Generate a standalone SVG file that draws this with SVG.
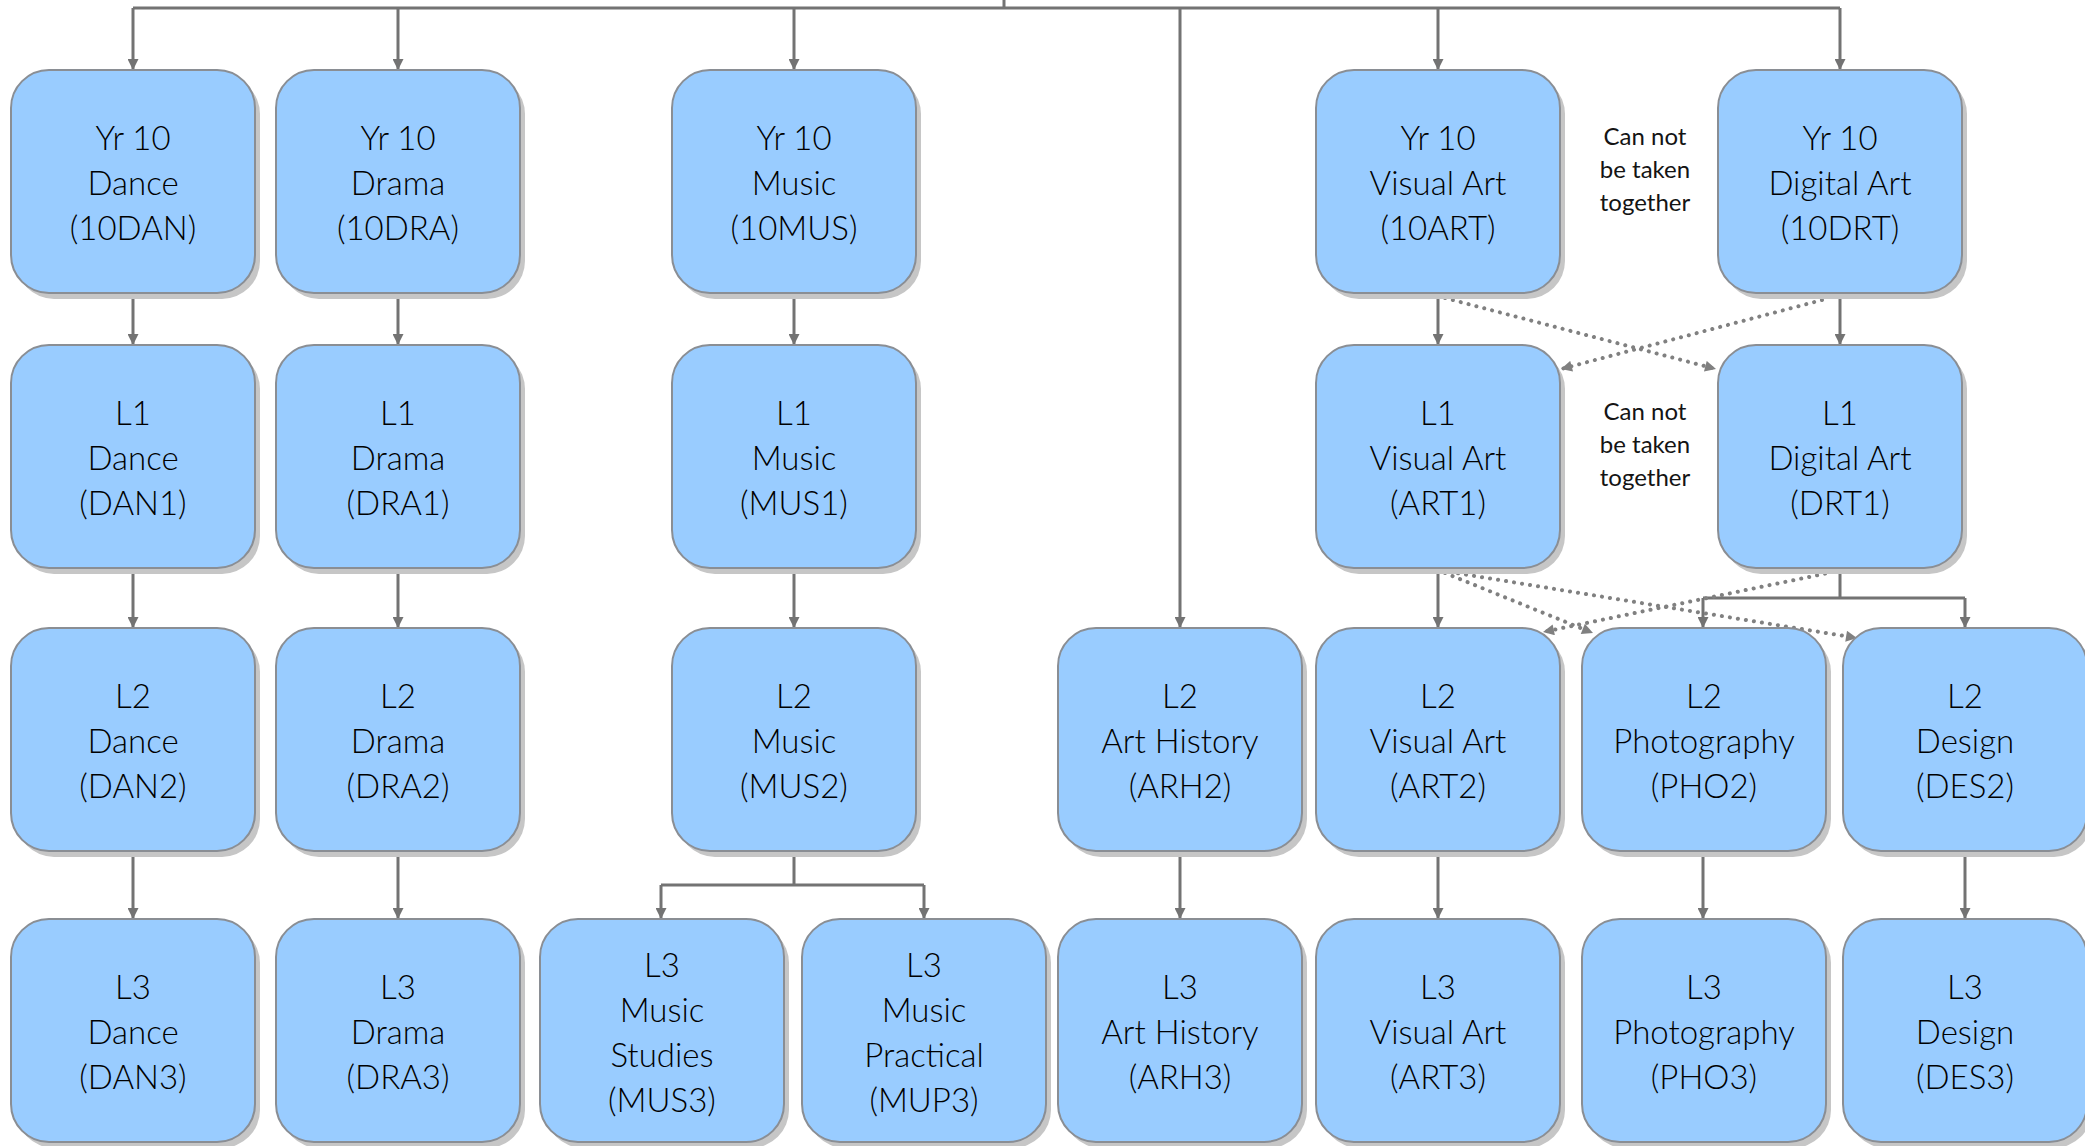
<svg xmlns="http://www.w3.org/2000/svg" width="2085" height="1146" viewBox="0 0 2085 1146">
<defs>
<marker id="ah" viewBox="0 0 10 10" refX="10" refY="5" markerWidth="12" markerHeight="11" markerUnits="userSpaceOnUse" orient="auto">
<path d="M0,0 L10,5 L0,10 z" fill="#737373"/>
</marker>
<marker id="dh" viewBox="0 0 10 10" refX="10" refY="5" markerWidth="13" markerHeight="11" markerUnits="userSpaceOnUse" orient="auto">
<path d="M0,0 L10,5 L0,10 z" fill="#808080"/>
</marker>
</defs>
<style>
.sh{fill:#c6c6c6}
.bx{fill:#99CCFF;stroke:#8a8e94;stroke-width:2}
.t{font-family:Lato,"Open Sans","Liberation Sans",sans-serif;font-weight:300;font-size:33px;fill:#000;text-anchor:middle}
.n{font-family:Lato,"Open Sans","Liberation Sans",sans-serif;font-weight:400;font-size:24px;fill:#141414;text-anchor:middle}
.c{fill:none;stroke:#737373;stroke-width:3}
.a{marker-end:url(#ah)}
.d{fill:none;stroke:#808080;stroke-width:4;stroke-linecap:round;stroke-dasharray:0.1 8;marker-end:url(#dh)}
</style>
<g id="connectors">
<path class="c" d="M1004,0 V8"/>
<path class="c" d="M133,8 H1840"/>
<path class="c a" d="M133,8 V70"/>
<path class="c a" d="M398,8 V70"/>
<path class="c a" d="M794,8 V70"/>
<path class="c a" d="M1180,8 V628"/>
<path class="c a" d="M1438,8 V70"/>
<path class="c a" d="M1840,8 V70"/>
<path class="c a" d="M133,293 V345"/>
<path class="c a" d="M398,293 V345"/>
<path class="c a" d="M794,293 V345"/>
<path class="c a" d="M1438,293 V345"/>
<path class="c a" d="M1840,293 V345"/>
<path class="c a" d="M133,568 V628"/>
<path class="c a" d="M398,568 V628"/>
<path class="c a" d="M794,568 V628"/>
<path class="c a" d="M1438,568 V628"/>
<path class="c" d="M1840,568 V598 M1703,598 H1965"/>
<path class="c a" d="M1703,598 V628"/>
<path class="c a" d="M1965,598 V628"/>
<path class="c" d="M794,851 V885 M661,885 H924"/>
<path class="c a" d="M661,885 V919"/>
<path class="c a" d="M924,885 V919"/>
<path class="c a" d="M133,851 V919"/>
<path class="c a" d="M398,851 V919"/>
<path class="c a" d="M1180,851 V919"/>
<path class="c a" d="M1438,851 V919"/>
<path class="c a" d="M1703,851 V919"/>
<path class="c a" d="M1965,851 V919"/>
<path class="d" d="M1445,298 L1716,369"/>
<path class="d" d="M1822,300 L1561,369"/>
<path class="d" d="M1445,573 L1593,633"/>
<path class="d" d="M1450,572 L1857,638"/>
<path class="d" d="M1833,572 L1543,632"/>
</g>
<g id="dan0"><rect class="sh" x="16" y="76" width="244" height="223" rx="38"/><rect class="bx" x="11" y="70" width="244" height="223" rx="38"/><text class="t" x="133" y="150">Yr 10</text><text class="t" x="133" y="195">Dance</text><text class="t" x="133" y="240">(10DAN)</text></g>
<g id="dra0"><rect class="sh" x="281" y="76" width="244" height="223" rx="38"/><rect class="bx" x="276" y="70" width="244" height="223" rx="38"/><text class="t" x="398" y="150">Yr 10</text><text class="t" x="398" y="195">Drama</text><text class="t" x="398" y="240">(10DRA)</text></g>
<g id="mus0"><rect class="sh" x="677" y="76" width="244" height="223" rx="38"/><rect class="bx" x="672" y="70" width="244" height="223" rx="38"/><text class="t" x="794" y="150">Yr 10</text><text class="t" x="794" y="195">Music</text><text class="t" x="794" y="240">(10MUS)</text></g>
<g id="art0"><rect class="sh" x="1321" y="76" width="244" height="223" rx="38"/><rect class="bx" x="1316" y="70" width="244" height="223" rx="38"/><text class="t" x="1438" y="150">Yr 10</text><text class="t" x="1438" y="195">Visual Art</text><text class="t" x="1438" y="240">(10ART)</text></g>
<g id="note0"><text class="n" x="1645" y="145">Can not</text><text class="n" x="1645" y="178">be taken</text><text class="n" x="1645" y="211">together</text></g>
<g id="drt0"><rect class="sh" x="1723" y="76" width="244" height="223" rx="38"/><rect class="bx" x="1718" y="70" width="244" height="223" rx="38"/><text class="t" x="1840" y="150">Yr 10</text><text class="t" x="1840" y="195">Digital Art</text><text class="t" x="1840" y="240">(10DRT)</text></g>

<g id="dan1"><rect class="sh" x="16" y="351" width="244" height="223" rx="38"/><rect class="bx" x="11" y="345" width="244" height="223" rx="38"/><text class="t" x="133" y="425">L1</text><text class="t" x="133" y="470">Dance</text><text class="t" x="133" y="515">(DAN1)</text></g>
<g id="dra1"><rect class="sh" x="281" y="351" width="244" height="223" rx="38"/><rect class="bx" x="276" y="345" width="244" height="223" rx="38"/><text class="t" x="398" y="425">L1</text><text class="t" x="398" y="470">Drama</text><text class="t" x="398" y="515">(DRA1)</text></g>
<g id="mus1"><rect class="sh" x="677" y="351" width="244" height="223" rx="38"/><rect class="bx" x="672" y="345" width="244" height="223" rx="38"/><text class="t" x="794" y="425">L1</text><text class="t" x="794" y="470">Music</text><text class="t" x="794" y="515">(MUS1)</text></g>
<g id="art1"><rect class="sh" x="1321" y="351" width="244" height="223" rx="38"/><rect class="bx" x="1316" y="345" width="244" height="223" rx="38"/><text class="t" x="1438" y="425">L1</text><text class="t" x="1438" y="470">Visual Art</text><text class="t" x="1438" y="515">(ART1)</text></g>
<g id="note1"><text class="n" x="1645" y="420">Can not</text><text class="n" x="1645" y="453">be taken</text><text class="n" x="1645" y="486">together</text></g>
<g id="drt1"><rect class="sh" x="1723" y="351" width="244" height="223" rx="38"/><rect class="bx" x="1718" y="345" width="244" height="223" rx="38"/><text class="t" x="1840" y="425">L1</text><text class="t" x="1840" y="470">Digital Art</text><text class="t" x="1840" y="515">(DRT1)</text></g>

<g id="dan2"><rect class="sh" x="16" y="634" width="244" height="223" rx="38"/><rect class="bx" x="11" y="628" width="244" height="223" rx="38"/><text class="t" x="133" y="708">L2</text><text class="t" x="133" y="753">Dance</text><text class="t" x="133" y="798">(DAN2)</text></g>
<g id="dra2"><rect class="sh" x="281" y="634" width="244" height="223" rx="38"/><rect class="bx" x="276" y="628" width="244" height="223" rx="38"/><text class="t" x="398" y="708">L2</text><text class="t" x="398" y="753">Drama</text><text class="t" x="398" y="798">(DRA2)</text></g>
<g id="mus2"><rect class="sh" x="677" y="634" width="244" height="223" rx="38"/><rect class="bx" x="672" y="628" width="244" height="223" rx="38"/><text class="t" x="794" y="708">L2</text><text class="t" x="794" y="753">Music</text><text class="t" x="794" y="798">(MUS2)</text></g>
<g id="arh2"><rect class="sh" x="1063" y="634" width="244" height="223" rx="38"/><rect class="bx" x="1058" y="628" width="244" height="223" rx="38"/><text class="t" x="1180" y="708">L2</text><text class="t" x="1180" y="753">Art History</text><text class="t" x="1180" y="798">(ARH2)</text></g>
<g id="art2"><rect class="sh" x="1321" y="634" width="244" height="223" rx="38"/><rect class="bx" x="1316" y="628" width="244" height="223" rx="38"/><text class="t" x="1438" y="708">L2</text><text class="t" x="1438" y="753">Visual Art</text><text class="t" x="1438" y="798">(ART2)</text></g>
<g id="pho2"><rect class="sh" x="1587" y="634" width="244" height="223" rx="38"/><rect class="bx" x="1582" y="628" width="244" height="223" rx="38"/><text class="t" x="1704" y="708">L2</text><text class="t" x="1704" y="753">Photography</text><text class="t" x="1704" y="798">(PHO2)</text></g>
<g id="des2"><rect class="sh" x="1848" y="634" width="244" height="223" rx="38"/><rect class="bx" x="1843" y="628" width="244" height="223" rx="38"/><text class="t" x="1965" y="708">L2</text><text class="t" x="1965" y="753">Design</text><text class="t" x="1965" y="798">(DES2)</text></g>

<g id="dan3"><rect class="sh" x="16" y="925" width="244" height="223" rx="38"/><rect class="bx" x="11" y="919" width="244" height="223" rx="38"/><text class="t" x="133" y="999">L3</text><text class="t" x="133" y="1044">Dance</text><text class="t" x="133" y="1089">(DAN3)</text></g>
<g id="dra3"><rect class="sh" x="281" y="925" width="244" height="223" rx="38"/><rect class="bx" x="276" y="919" width="244" height="223" rx="38"/><text class="t" x="398" y="999">L3</text><text class="t" x="398" y="1044">Drama</text><text class="t" x="398" y="1089">(DRA3)</text></g>
<g id="mus3"><rect class="sh" x="545" y="925" width="244" height="223" rx="38"/><rect class="bx" x="540" y="919" width="244" height="223" rx="38"/><text class="t" x="662" y="977">L3</text><text class="t" x="662" y="1022">Music</text><text class="t" x="662" y="1067">Studies</text><text class="t" x="662" y="1112">(MUS3)</text></g>
<g id="mup3"><rect class="sh" x="807" y="925" width="244" height="223" rx="38"/><rect class="bx" x="802" y="919" width="244" height="223" rx="38"/><text class="t" x="924" y="977">L3</text><text class="t" x="924" y="1022">Music</text><text class="t" x="924" y="1067">Practical</text><text class="t" x="924" y="1112">(MUP3)</text></g>
<g id="arh3"><rect class="sh" x="1063" y="925" width="244" height="223" rx="38"/><rect class="bx" x="1058" y="919" width="244" height="223" rx="38"/><text class="t" x="1180" y="999">L3</text><text class="t" x="1180" y="1044">Art History</text><text class="t" x="1180" y="1089">(ARH3)</text></g>
<g id="art3"><rect class="sh" x="1321" y="925" width="244" height="223" rx="38"/><rect class="bx" x="1316" y="919" width="244" height="223" rx="38"/><text class="t" x="1438" y="999">L3</text><text class="t" x="1438" y="1044">Visual Art</text><text class="t" x="1438" y="1089">(ART3)</text></g>
<g id="pho3"><rect class="sh" x="1587" y="925" width="244" height="223" rx="38"/><rect class="bx" x="1582" y="919" width="244" height="223" rx="38"/><text class="t" x="1704" y="999">L3</text><text class="t" x="1704" y="1044">Photography</text><text class="t" x="1704" y="1089">(PHO3)</text></g>
<g id="des3"><rect class="sh" x="1848" y="925" width="244" height="223" rx="38"/><rect class="bx" x="1843" y="919" width="244" height="223" rx="38"/><text class="t" x="1965" y="999">L3</text><text class="t" x="1965" y="1044">Design</text><text class="t" x="1965" y="1089">(DES3)</text></g>
</svg>
